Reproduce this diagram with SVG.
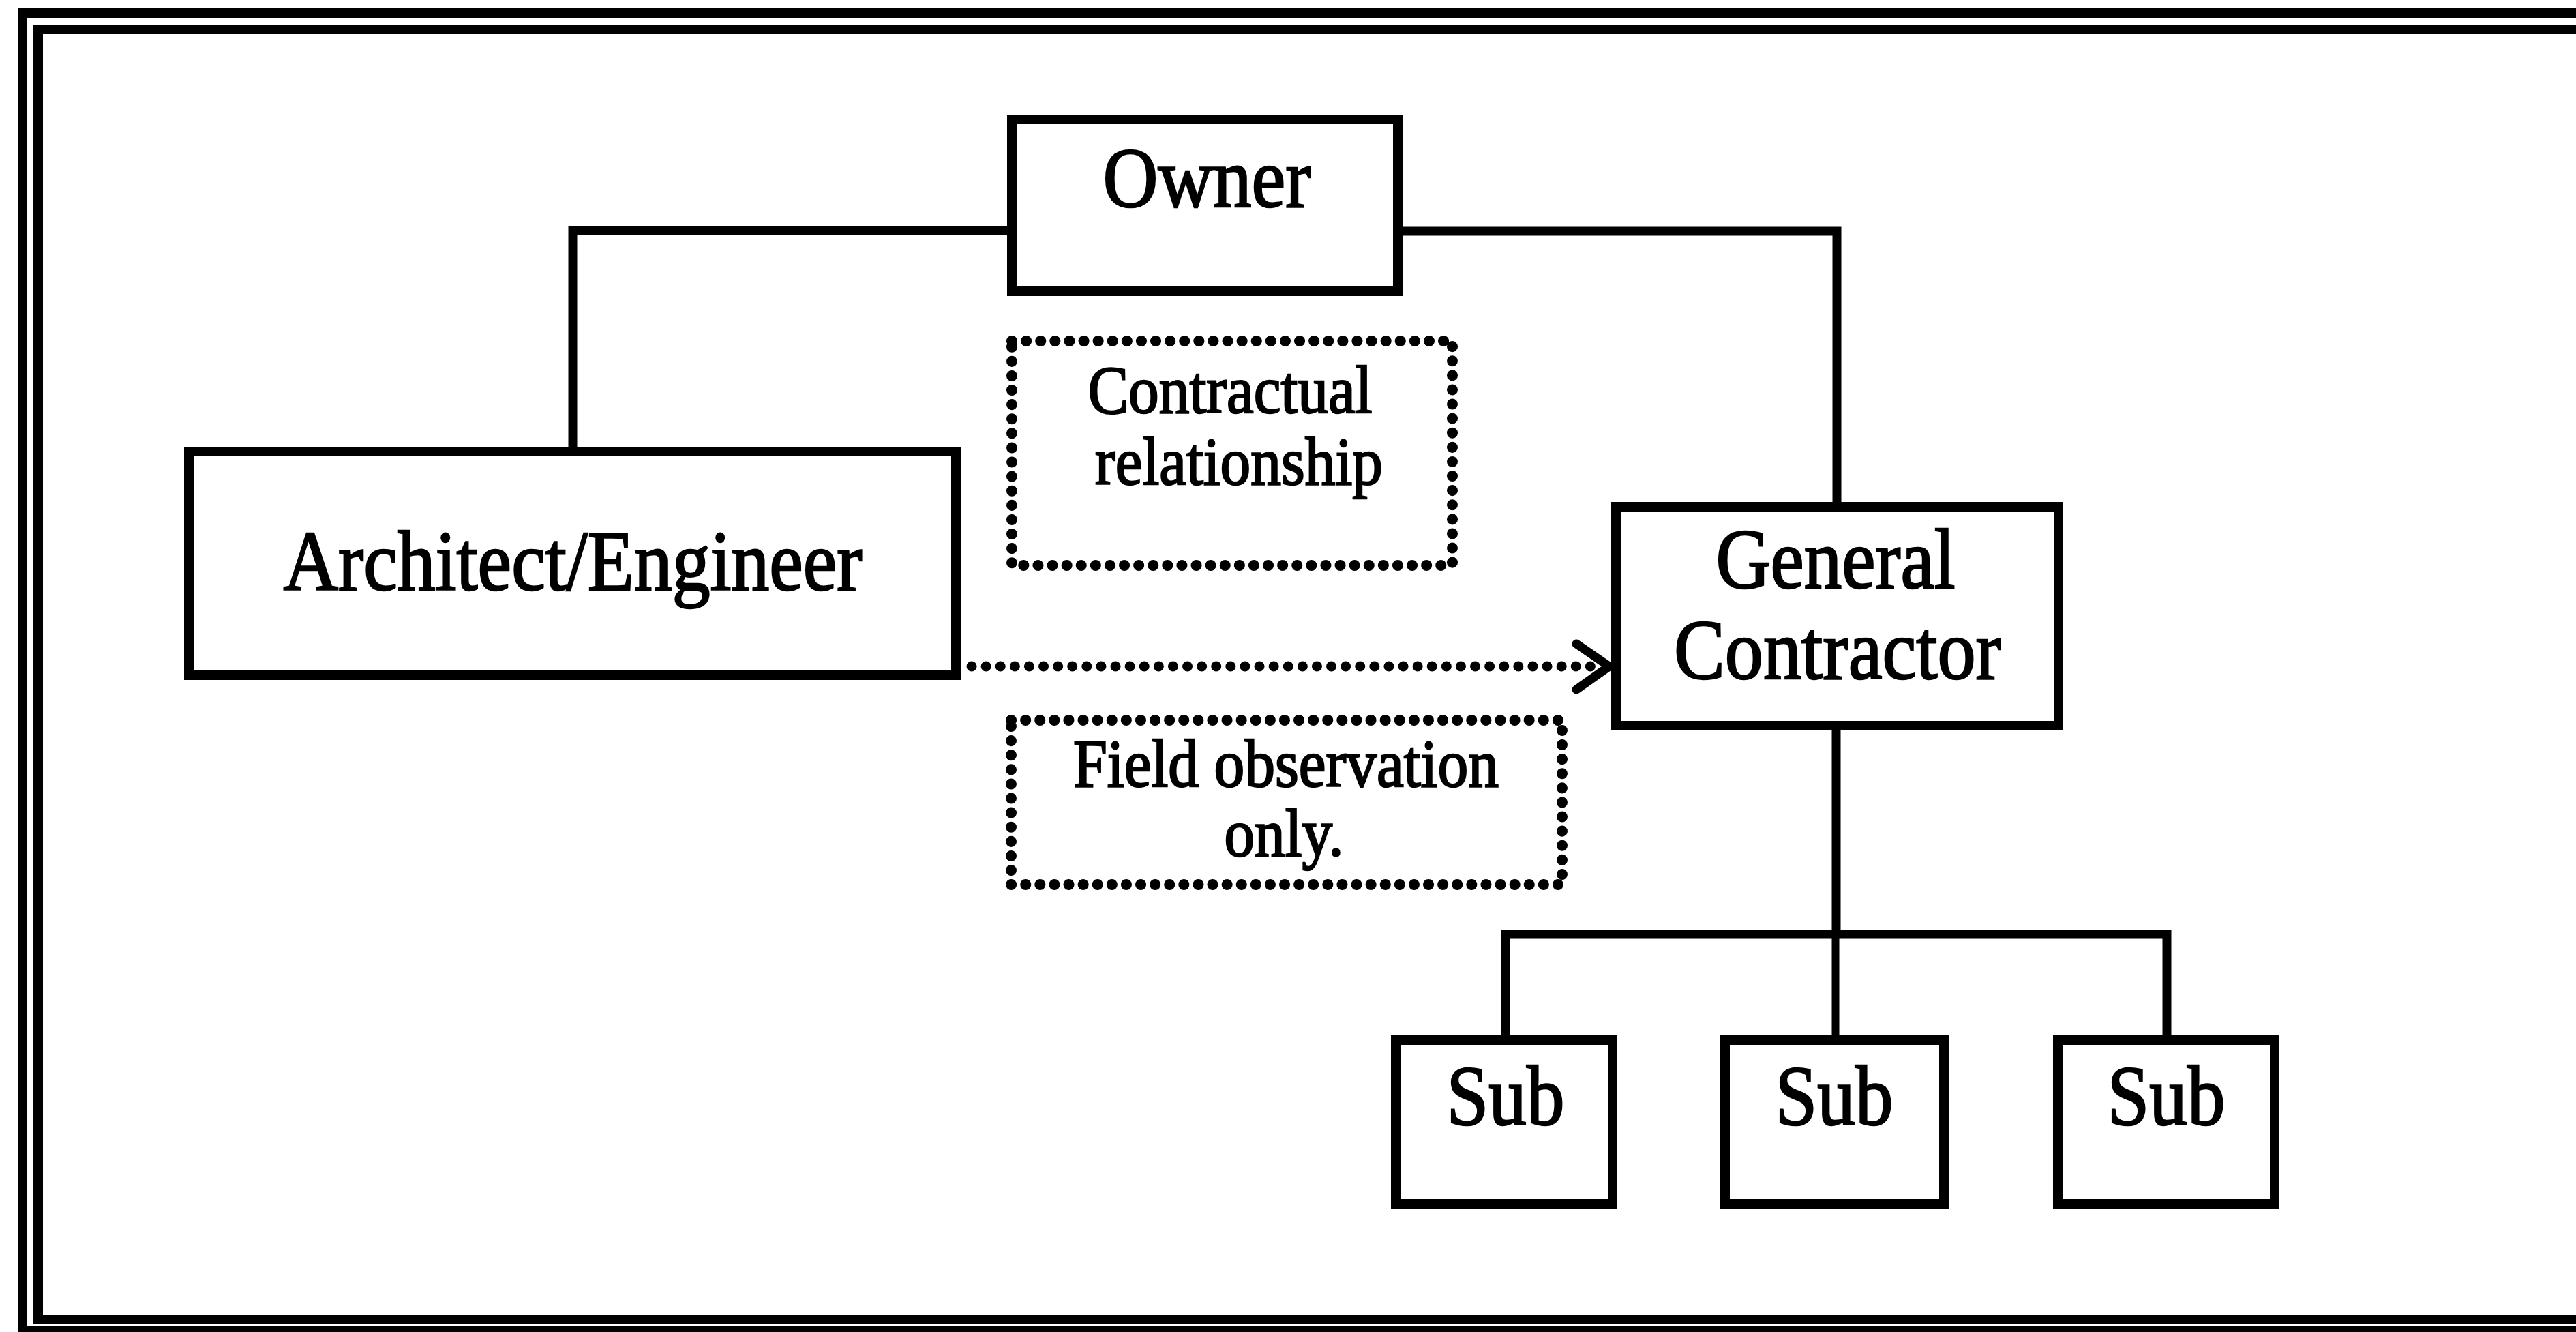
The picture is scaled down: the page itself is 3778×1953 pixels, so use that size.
<svg xmlns="http://www.w3.org/2000/svg" width="3778" height="1953" viewBox="0 0 3778 1953">
<style>
.node{fill:#fff;stroke:#000;stroke-width:14}
.note{fill:none;stroke:#000;stroke-width:16;stroke-linecap:round;stroke-dasharray:0.1 21}
.lbl{font-family:"Liberation Serif","Times New Roman",serif;fill:#000;stroke:#000;stroke-width:2.5;text-anchor:middle}
.big{font-size:124px}
.small{font-size:100px}
.conn{fill:none;stroke:#000;stroke-width:13;stroke-linejoin:miter}
.dot{fill:none;stroke:#000;stroke-width:15;stroke-linecap:round;stroke-dasharray:0.1 21}
.frame{fill:none;stroke:#000;stroke-width:14}
</style>
<rect x="0" y="0" width="3778" height="1953" fill="#fff"/>
<g id="frame">
<rect class="frame" x="33" y="19" width="3800" height="1932"/>
<rect class="frame" x="56" y="43" width="3800" height="1892"/>
</g>
<g id="connectors">
<polyline class="conn" points="1477,338 840,338 840,655"/>
<polyline class="conn" points="2057,339 2694,339 2694,736"/>
<line class="conn" x1="2693" y1="1071" x2="2693" y2="1370"/>
<polyline class="conn" points="2208,1518 2208,1370 3178,1370 3178,1518"/>
<line class="conn" x1="2692" y1="1370" x2="2692" y2="1518" style="stroke-width:11"/>
<line class="dot" x1="1425" y1="977" x2="2345" y2="977"/>
<polyline fill="none" stroke="#000" stroke-width="13" stroke-linecap="round" stroke-linejoin="miter" points="2312,944 2360,977 2312,1011"/>
</g>
<g id="owner">
<rect class="node" x="1484" y="175" width="566" height="252"/>
<text class="lbl big" x="1770" y="303" textLength="305" lengthAdjust="spacingAndGlyphs">Owner</text>
</g>
<g id="architect">
<rect class="node" x="277" y="662" width="1125" height="328"/>
<text class="lbl big" x="840" y="865" textLength="849" lengthAdjust="spacingAndGlyphs">Architect/Engineer</text>
</g>
<g id="contractor">
<rect class="node" x="2370" y="743" width="649" height="321"/>
<text class="lbl big" x="2692" y="862" textLength="351" lengthAdjust="spacingAndGlyphs">General</text>
<text class="lbl big" x="2695" y="995" textLength="480" lengthAdjust="spacingAndGlyphs">Contractor</text>
</g>
<g id="note-contractual">
<rect class="note" x="1484" y="500" width="646" height="329"/>
<text class="lbl small" x="1804" y="605" textLength="417" lengthAdjust="spacingAndGlyphs">Contractual</text>
<text class="lbl small" x="1817" y="710" textLength="422" lengthAdjust="spacingAndGlyphs">relationship</text>
</g>
<g id="note-field">
<rect class="note" x="1483" y="1056" width="808" height="241"/>
<text class="lbl small" x="1886" y="1153" textLength="624" lengthAdjust="spacingAndGlyphs">Field observation</text>
<text class="lbl small" x="1883" y="1255" textLength="175" lengthAdjust="spacingAndGlyphs">only.</text>
</g>
<g id="sub1">
<rect class="node" x="2047" y="1525" width="318" height="240"/>
<text class="lbl big" x="2208" y="1649" textLength="173" lengthAdjust="spacingAndGlyphs">Sub</text>
</g>
<g id="sub2">
<rect class="node" x="2530" y="1525" width="321" height="240"/>
<text class="lbl big" x="2690" y="1649" textLength="173" lengthAdjust="spacingAndGlyphs">Sub</text>
</g>
<g id="sub3">
<rect class="node" x="3018" y="1525" width="318" height="240"/>
<text class="lbl big" x="3177" y="1649" textLength="173" lengthAdjust="spacingAndGlyphs">Sub</text>
</g>
</svg>
